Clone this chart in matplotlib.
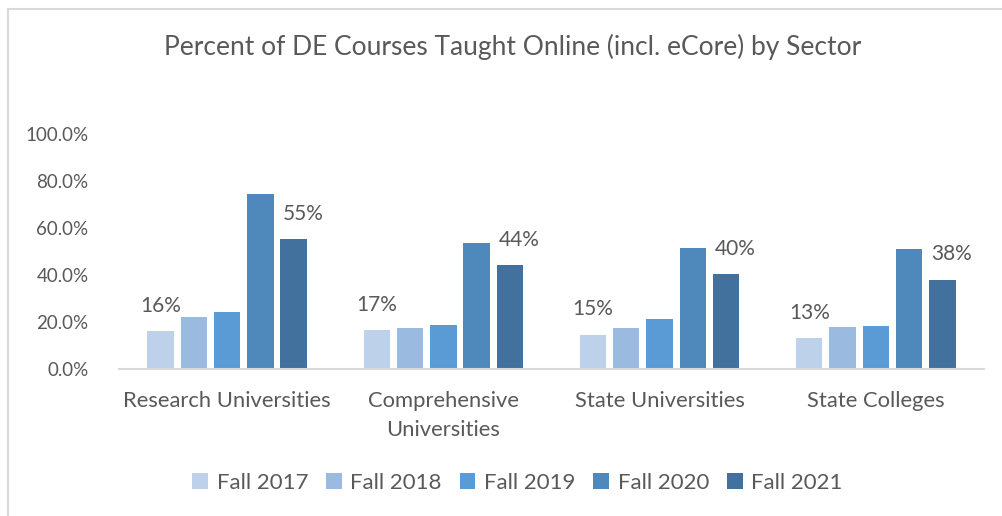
import matplotlib.pyplot as plt
import matplotlib.patches as mpatches
import numpy as np

# data
sectors = ['Research Universities', 'Comprehensive\nUniversities', 'State Universities', 'State Colleges']
terms = ['Fall 2017', 'Fall 2018', 'Fall 2019', 'Fall 2020', 'Fall 2021']
fall_2017 = [16.2, 16.6, 14.6, 13.2]
fall_2018 = [22.0, 17.4, 17.4, 17.7]
fall_2019 = [24.3, 18.7, 21.3, 18.2]
fall_2020 = [74.5, 53.6, 51.5, 51.2]
fall_2021 = [55.4, 44.3, 40.3, 38.0]
values = [fall_2017, fall_2018, fall_2019, fall_2020, fall_2021]
colors = ['#BDD1EA', '#9BBAE0', '#5B9BD5', '#4F89BC', '#41719C']

plt.rcParams['font.family'] = ['Lato', 'DejaVu Sans']
txt = '#595959'

fig = plt.figure(figsize=(10.03, 5.16), dpi=100)
ax = fig.add_axes([0.1186, 0.2849, 0.8624, 0.4554])

x = np.arange(len(sectors))
step = 0.154
width = 0.122
for i, (vals, col) in enumerate(zip(values, colors)):
    pos = x + (i - 2) * step
    bars = ax.bar(pos, vals, width, color=col, label=terms[i], zorder=2)
    if i == 0:
        for b, v in zip(bars, vals):
            ax.text(b.get_x() + b.get_width() / 2, v + 6.5, f'{v:.0f}%',
                    ha='center', va='bottom', fontsize=15, color=txt)
    if i == 4:
        for b, v in zip(bars, vals):
            ax.text(b.get_x() + 0.01, v + 6.5, f'{v:.0f}%',
                    ha='left', va='bottom', fontsize=15, color=txt)

ax.set_xlim(-0.5, 3.5)
ax.set_ylim(0, 100)
ax.set_yticks(np.arange(0, 101, 20))
ax.set_yticklabels([f'{t:.1f}%' for t in np.arange(0, 101, 20)])
ax.set_xticks(x)
ax.set_xticklabels(sectors, linespacing=1.55)
ax.tick_params(axis='y', length=0, pad=22, labelsize=13.5, labelcolor=txt)
ax.tick_params(axis='x', length=0, pad=16, labelsize=15.8, labelcolor=txt)
for s in ['top', 'right', 'left']:
    ax.spines[s].set_visible(False)
ax.spines['bottom'].set_color('#D9D9D9')
ax.spines['bottom'].set_linewidth(1.5)

fig.text(0.511, 0.909, 'Percent of DE Courses Taught Online (incl. eCore) by Sector',
         ha='center', va='center', fontsize=19, color=txt)

leg = fig.legend(loc='center', bbox_to_anchor=(0.516, 0.064), ncol=5, frameon=False,
                 fontsize=16, handlelength=0.7, handleheight=0.7, handletextpad=0.4,
                 columnspacing=0.8, labelcolor=txt)

# chart area border (cropped at right and bottom)
fig.patches.append(mpatches.Rectangle((8 / 1003, -0.1), 1.2, 1.1 - 8.5 / 516,
                                      transform=fig.transFigure, fill=False,
                                      edgecolor='#D9D9D9', linewidth=1.5))

fig.savefig('out.png', dpi=100)
